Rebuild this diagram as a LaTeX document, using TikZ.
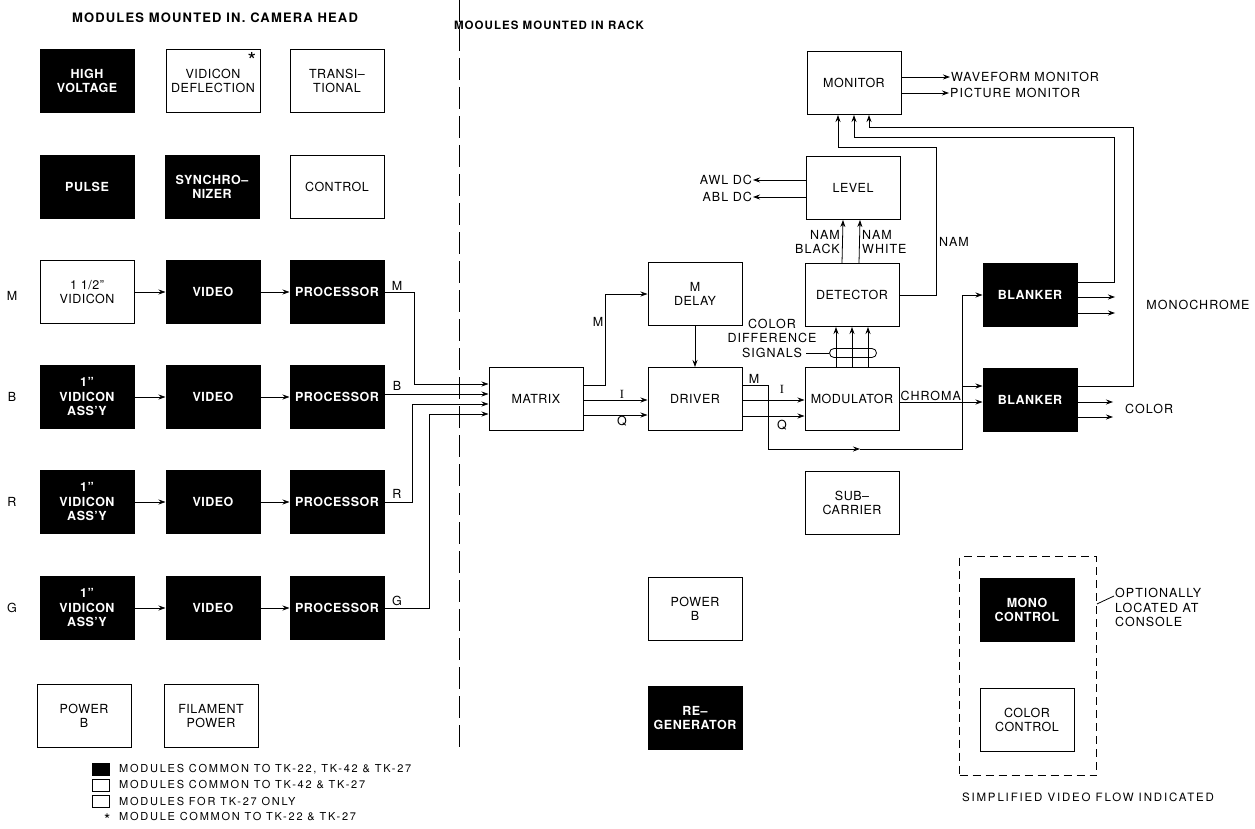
\documentclass[tikz,border=0pt]{standalone}
\usepackage{fontspec}
\setmainfont{TeX Gyre Heros}[LetterSpace=4]
\newfontfamily\lblfont{TeX Gyre Heros}[LetterSpace=8]
\newfontfamily\legfont{TeX Gyre Heros}[LetterSpace=16]
\newfontfamily\headfont{TeX Gyre Heros}[LetterSpace=9]
\newfontfamily\serifI{Liberation Serif}
\usetikzlibrary{
    arrows.meta,
    positioning
}

\begin{document}
\begin{tikzpicture}[
        x=1pt, y=-1pt,
        >={Stealth[length=7pt,width=5pt]},
        box/.style={
            draw,
            line width=1pt,
            minimum width=94pt,
            minimum height=63pt,
            inner sep=0pt,
            align=center,
            font=\fontsize{12.5}{14.5}\selectfont
        },
        blackbox/.style={
            box,
            fill=black,
            text=white,
            font=\fontsize{12.5}{14.5}\selectfont\bfseries
        },
        wire/.style={line width=0.8pt},
        lbl/.style={inner sep=1pt, align=center, font=\lblfont\fontsize{12.5}{14.5}\selectfont},
        legtext/.style={anchor=west, inner sep=0pt, font=\legfont\fontsize{11}{13}\selectfont},
        legbox/.style={draw, line width=0.8pt, minimum width=17pt, minimum height=12pt, inner sep=0pt},
        heading/.style={inner sep=0pt, font=\headfont\fontsize{13}{15}\selectfont\bfseries}
    ]
        \useasboundingbox (0,0) rectangle (1255,829);

        % headings and separator
        \node[heading] (headL) at (215,18) {MODULES MOUNTED IN. CAMERA HEAD};
        \node[heading, font=\headfont\fontsize{11.5}{14}\selectfont\bfseries] (headR) at (549,25) {MOOULES MOUNTED IN RACK};
        \draw[dash pattern=on 22pt off 7pt, line width=0.8pt] (459,0) -- (459,752);

        % camera head modules
        \node[blackbox] (hv) at (87,81) {HIGH\\VOLTAGE};
        \node[box] (vdef) at (213,81) {VIDICON\\DEFLECTION};
        \node[font=\fontsize{22}{22}\selectfont, inner sep=0pt, anchor=north] (ast) at (252,52) {*};
        \node[box] (trans) at (337,81) {TRANSI--\\TIONAL};
        \node[blackbox] (pulse) at (87,187) {PULSE};
        \node[blackbox] (sync) at (212,187) {SYNCHRO--\\NIZER};
        \node[box] (ctrl) at (337,187) {CONTROL};

        \node[box] (vidM) at (87,292) {1 1/2"\\VIDICON};
        \node[blackbox] (ampM) at (213,292) {VIDEO};
        \node[blackbox] (procM) at (337,292) {PROCESSOR};
        \node[lbl] (chM) at (12,296) {M};
        \draw[wire,->] (vidM) -- (ampM);
        \draw[wire,->] (ampM) -- (procM);

        \foreach \ch/\y in {B/397, R/502, G/608} {
            \node[blackbox] (vid\ch) at (87,\y) {1"\\VIDICON\\ASS'Y};
            \node[blackbox] (amp\ch) at (213,\y) {VIDEO};
            \node[blackbox] (proc\ch) at (337,\y) {PROCESSOR};
            \node[lbl] (ch\ch) at (12,\y) {\ch};
            \draw[wire,->] (vid\ch) -- (amp\ch);
            \draw[wire,->] (amp\ch) -- (proc\ch);
        }

        \node[box] (pwrL) at (84,716) {POWER\\B};
        \node[box] (fil) at (211,716) {FILAMENT\\POWER};

        % legend
        \node[legbox, fill=black] (leg1) at (101,769) {};
        \node[legbox] (leg2) at (101,785) {};
        \node[legbox] (leg3) at (101,801) {};
        \node[legtext] at (119,769) {MODULES COMMON TO TK-22, TK-42 \& TK-27};
        \node[legtext] at (119,785) {MODULES COMMON TO TK-42 \& TK-27};
        \node[legtext] at (119,801) {MODULES FOR TK-27 ONLY};
        \node[legtext, font=\fontsize{16}{16}\selectfont] at (104,820) {*};
        \node[legtext] at (119,817) {MODULE COMMON TO TK-22 \& TK-27};

        % rack modules
        \node[box] (mtx) at (536,399) {MATRIX};
        \node[box] (mdel) at (695,294) {M\\DELAY};
        \node[box] (drv) at (695,399) {DRIVER};
        \node[box] (mon) at (854,83) {MONITOR};
        \node[box] (lev) at (853,188) {LEVEL};
        \node[box] (det) at (852,295) {DETECTOR};
        \node[box] (modu) at (852,399) {MODULATOR};
        \node[box] (sub) at (852,503) {SUB--\\CARRIER};
        \node[blackbox] (blk1) at (1030,295) {BLANKER};
        \node[blackbox] (blk2) at (1030,400) {BLANKER};
        \node[box] (pwrR) at (695,609) {POWER\\B};
        \node[blackbox] (regen) at (695,718) {RE--\\GENERATOR};
        \node[draw, dash pattern=on 8pt off 5pt, line width=0.8pt,
              minimum width=137pt, minimum height=219pt] (console) at (1028,666) {};
        \node[blackbox] (monoc) at (1027,610) {MONO\\CONTROL};
        \node[box] (colc) at (1027,720) {COLOR\\CONTROL};

        % camera signals into matrix
        \coordinate (inM) at ([yshift=15pt]mtx.west);
        \coordinate (inB) at ([yshift=5pt]mtx.west);
        \coordinate (inR) at ([yshift=-5pt]mtx.west);
        \coordinate (inG) at ([yshift=-15pt]mtx.west);
        \draw[wire,->] (procM.east) -- ++(30,0) |- (inM);
        \draw[wire,->] (procB.east |- inB) -- (inB);
        \draw[wire,->] (procR.east) -- ++(28,0) |- (inR);
        \draw[wire,->] (procG.east) -- ++(45,0) |- (inG);
        \node[lbl] at (397,286) {M};
        \node[lbl] at (397,386) {B};
        \node[lbl] at (397,494) {R};
        \node[lbl] at (397,601) {G};

        % matrix and driver
        \draw[wire,->] ([yshift=14pt]mtx.east) -- ++(22,0) |- (mdel.west);
        \node[lbl] at (598,322) {M};
        \draw[wire,->] ([yshift=-1pt]mtx.east) -- ([yshift=-1pt]drv.west)
            node[lbl, pos=0.6, above] {\serifI I};
        \draw[wire,->] ([yshift=-16pt]mtx.east) -- ([yshift=-16pt]drv.west)
            node[lbl, pos=0.6, below] {Q};
        \draw[wire,->] (mdel) -- (drv);

        \coordinate (mdn) at (768,449);
        \coordinate (mmid) at (860,449);
        \coordinate (mup) at (962,449);
        \coordinate (blk2in) at ([yshift=14pt]blk2.west);
        \draw[wire,->] ([yshift=14pt]drv.east) -| (mdn) -- (mmid);
        \draw[wire,->] (mmid) -- (mup) |- (blk1.west);
        \draw[wire,->] (mup |- blk2in) -- (blk2in);
        \node[lbl] at (754,379) {M};
        \draw[wire,->] ([yshift=-1pt]drv.east) -- ([yshift=-1pt]modu.west);
        \draw[wire,->] ([yshift=-17pt]drv.east) -- ([yshift=-17pt]modu.west);
        \node[lbl] at (782,389) {\serifI I};
        \node[lbl] at (782,425) {Q};

        % chroma
        \coordinate (chr) at ([yshift=-3pt]modu.east);
        \draw[wire,->] (chr) -- (chr -| blk2.west);
        \node[lbl, anchor=south west] at (chr) {CHROMA};

        % modulator to detector to level
        \foreach \dx in {-16,0,16}
            \draw[wire,->] ([xshift=\dx pt]modu.north) -- ([xshift=\dx pt]det.south);
        \node[draw, line width=0.8pt, minimum width=47pt, minimum height=9pt,
              rounded corners=4.5pt, inner sep=0pt] (bundle) at (853,353) {};
        \node[lbl] (cds) at (772,338) {COLOR\\DIFFERENCE\\SIGNALS};
        \coordinate (cdsend) at (806,353);
        \draw[wire] (cdsend) -- (bundle.west);

        \draw[wire,->] ([xshift=-10pt]det.north) -- ([xshift=-10pt]lev.south);
        \draw[wire,->] ([xshift=7pt]det.north) -- ([xshift=7pt]lev.south);
        \node[lbl, align=right, anchor=east] at (841,242) {NAM\\BLACK};
        \node[lbl, align=left, anchor=west] at (861,242) {NAM\\WHITE};

        \node[lbl, anchor=east] (awl) at (753,180) {AWL DC};
        \node[lbl, anchor=east] (abl) at (753,197) {ABL DC};
        \draw[wire,->] (lev.west |- awl.east) -- (awl.east);
        \draw[wire,->] (lev.west |- abl.east) -- (abl.east);

        % feeds to monitor
        \draw[wire,->] (det.east) -| (936,147) -| ([xshift=-16pt]mon.south);
        \node[lbl, anchor=west] at (938,242) {NAM};
        \draw[wire,->] ([yshift=13pt]blk1.east) -| (1114,137) -| (mon.south);
        \draw[wire,->] ([yshift=14pt]blk2.east) -| (1133,127) -| ([xshift=15pt]mon.south);

        \node[lbl, anchor=west] (wfm) at (950,77) {WAVEFORM MONITOR};
        \node[lbl, anchor=west] (pic) at (949,93) {PICTURE MONITOR};
        \draw[wire,->] (mon.east |- wfm.west) -- (wfm.west);
        \draw[wire,->] (mon.east |- pic.west) -- (pic.west);

        % blanker outputs
        \coordinate (mono1) at (1115,297);
        \coordinate (mono2) at (1115,313);
        \coordinate (col1) at (1113,402);
        \coordinate (col2) at (1113,417);
        \draw[wire,->] (blk1.east |- mono1) -- (mono1);
        \draw[wire,->] (blk1.east |- mono2) -- (mono2);
        \draw[wire,->] (blk2.east |- col1) -- (col1);
        \draw[wire,->] (blk2.east |- col2) -- (col2);
        \node[lbl] at (1198,305) {MONOCHROME};
        \node[lbl, anchor=west] at (1124,409) {COLOR};

        % console note
        \node[lbl, anchor=north west, align=left] (optl) at (1114,587) {OPTIONALLY\\LOCATED AT\\CONSOLE};
        \draw[wire] ([yshift=62pt]console.east) -- ([yshift=-9pt]optl.north west);
        \node[lbl, font=\legfont\fontsize{11.5}{13}\selectfont] at (1088,797) {SIMPLIFIED VIDEO FLOW INDICATED};
    \end{tikzpicture}
\end{document}
